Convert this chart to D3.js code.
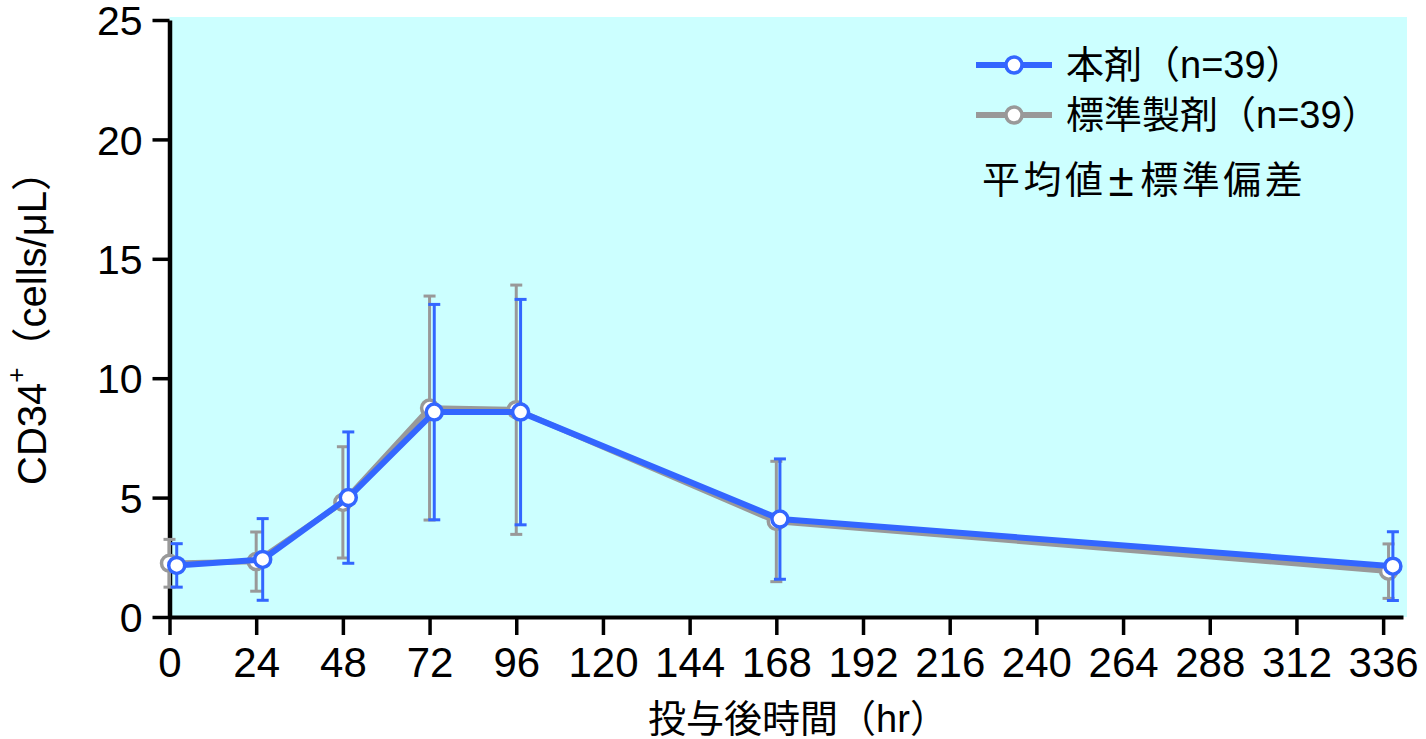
<!DOCTYPE html>
<html>
<head>
<meta charset="utf-8">
<script src="https://cdn.jsdelivr.net/npm/d3@7"></script>
<style>
  html, body { margin: 0; padding: 0; background: #ffffff; }
  svg { display: block; }
  text { font-family: "Liberation Sans", Arial, "Noto Sans CJK JP", sans-serif; fill: #000; }
</style>
</head>
<body>
<svg id="chart" width="1426" height="739"></svg>
<script>
// ---------------- data ----------------
const xTicks = [0, 24, 48, 72, 96, 120, 144, 168, 192, 216, 240, 264, 288, 312, 336];
const yTicks = [0, 5, 10, 15, 20, 25];

// 標準製剤 (reference product)
const refName = "標準製剤（n=39）";
const refTimes = [0, 24, 48, 72, 96, 168, 337.5];
const refMean  = [2.25, 2.32, 4.80, 8.75, 8.68, 4.00, 1.92];
const refSD    = [1.00, 1.24, 2.33, 4.69, 5.22, 2.52, 1.14];

// 本剤 (test product)
const testName = "本剤（n=39）";
const testTimes = [2, 25.8, 49.5, 73.3, 97.2, 169, 338.7];
const testMean  = [2.16, 2.41, 5.00, 8.58, 8.58, 4.10, 2.13];
const testSD    = [0.91, 1.71, 2.75, 4.51, 4.72, 2.52, 1.44];

const noteText = "平均値±標準偏差";
const xTitle = "投与後時間（hr）";

// ---------------- layout ----------------
const svg = d3.select("#chart");
const mLeft = 169.5, mRight = 1403, mTop = 20, mBottom = 617;

const x = d3.scaleLinear().domain([0, 341.5]).range([mLeft, mRight]);
const y = d3.scaleLinear().domain([0, 25]).range([mBottom, mTop]);

// background
svg.append("rect")
  .attr("x", mLeft).attr("y", mTop - 3)
  .attr("width", mRight + 4 - mLeft).attr("height", mBottom - mTop + 3)
  .attr("fill", "#ccffff");

// axes
const yAxis = svg.append("g")
  .attr("transform", `translate(${mLeft},0)`)
  .call(d3.axisLeft(y).tickValues(yTicks).tickSize(17).tickSizeOuter(0).tickPadding(10));
yAxis.select(".domain").attr("stroke", "#000").attr("stroke-width", 4.5);
yAxis.selectAll(".tick line").attr("stroke", "#000").attr("stroke-width", 3.5);
yAxis.selectAll(".tick text").attr("font-size", 41).attr("font-family", "Liberation Sans, Arial, sans-serif").attr("dy", "0.36em");

const xAxis = svg.append("g")
  .attr("transform", `translate(0,${mBottom})`)
  .call(d3.axisBottom(x).tickValues(xTicks).tickSize(18).tickSizeOuter(0).tickPadding(12));
xAxis.select(".domain").attr("stroke", "#000").attr("stroke-width", 4);
xAxis.selectAll(".tick line").attr("stroke", "#000").attr("stroke-width", 3.5);
xAxis.selectAll(".tick text").attr("font-size", 42).attr("font-family", "Liberation Sans, Arial, sans-serif");

// axis titles
svg.append("text")
  .attr("x", 798).attr("y", 719)
  .attr("text-anchor", "middle").attr("dominant-baseline", "central")
  .attr("font-size", 38)
  .text(xTitle);

const yt = svg.append("text")
  .attr("transform", "translate(32,318) rotate(-90)")
  .attr("text-anchor", "middle").attr("dominant-baseline", "central")
  .attr("font-size", 40);
yt.append("tspan").text("CD34");
yt.append("tspan").attr("font-size", 26).attr("dy", "-0.6em").text("+");
yt.append("tspan").attr("dy", "0.39em").text("（cells/μL）");

// ---------------- series ----------------
function drawSeries(times, mean, sd, color, lw, ebw) {
  const pts = times.map((t, i) => ({ t, m: mean[i], s: sd[i] }));
  const g = svg.append("g");
  g.append("path")
    .datum(pts)
    .attr("fill", "none").attr("stroke", color).attr("stroke-width", lw)
    .attr("stroke-linejoin", "round")
    .attr("d", d3.line().x(d => x(d.t)).y(d => y(d.m)));
  const eb = g.selectAll(".eb").data(pts).enter().append("g").attr("stroke", color).attr("stroke-width", ebw);
  eb.append("line")
    .attr("x1", d => x(d.t)).attr("x2", d => x(d.t))
    .attr("y1", d => y(d.m - d.s)).attr("y2", d => y(d.m + d.s));
  eb.append("line")
    .attr("x1", d => x(d.t) - 6).attr("x2", d => x(d.t) + 6)
    .attr("y1", d => y(d.m + d.s)).attr("y2", d => y(d.m + d.s));
  eb.append("line")
    .attr("x1", d => x(d.t) - 6).attr("x2", d => x(d.t) + 6)
    .attr("y1", d => y(d.m - d.s)).attr("y2", d => y(d.m - d.s));
  g.selectAll("circle").data(pts).enter().append("circle")
    .attr("cx", d => x(d.t)).attr("cy", d => y(d.m)).attr("r", 8)
    .attr("fill", "#fff").attr("stroke", color).attr("stroke-width", 3.5);
}

const blue = "#3366ff", gray = "#999999";
drawSeries(refTimes, refMean, refSD, gray, 5.5, 3);
drawSeries(testTimes, testMean, testSD, blue, 6, 3);

// ---------------- legend ----------------
const legend = svg.append("g");
[[testName, blue, 65], [refName, gray, 115]].forEach(([name, color, ly]) => {
  legend.append("line").attr("x1", 976).attr("x2", 1052).attr("y1", ly).attr("y2", ly)
    .attr("stroke", color).attr("stroke-width", 6);
  legend.append("circle").attr("cx", 1014).attr("cy", ly).attr("r", 8)
    .attr("fill", "#fff").attr("stroke", color).attr("stroke-width", 3.5);
  legend.append("text").attr("x", 1066).attr("y", ly)
    .attr("dominant-baseline", "central").attr("font-size", 38).text(name);
});
const noteParts = noteText.split("±");
const note = legend.append("text").attr("x", 982).attr("y", 180)
  .attr("dominant-baseline", "central").attr("font-size", 38).attr("letter-spacing", 3.5)
  .attr("font-family", "Noto Sans CJK JP, sans-serif");
note.append("tspan").text(noteParts[0]);
note.append("tspan").attr("font-size", 46).attr("dx", 2).text("±");
note.append("tspan").attr("dx", 3).text(noteParts[1]);
</script>
</body>
</html>
